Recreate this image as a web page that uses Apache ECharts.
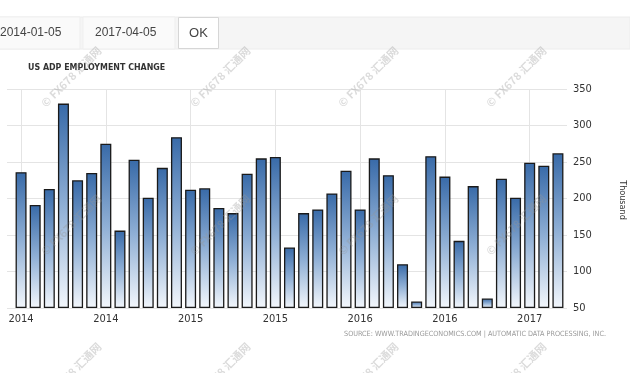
<!DOCTYPE html>
<html>
<head>
<meta charset="utf-8">
<script src="https://cdn.jsdelivr.net/npm/echarts@6/dist/echarts.min.js"></script>
<style>
html,body{margin:0;padding:0;background:#fff;}
#c{width:630px;height:373px;}
</style>
</head>
<body>
<div id="c"></div>
<script>
// ---- data ----
var categories = [
  '2014-01','2014-02','2014-03','2014-04','2014-05','2014-06','2014-07','2014-08','2014-09','2014-10','2014-11','2014-12',
  '2015-01','2015-02','2015-03','2015-04','2015-05','2015-06','2015-07','2015-08','2015-09','2015-10','2015-11','2015-12',
  '2016-01','2016-02','2016-03','2016-04','2016-05','2016-06','2016-07','2016-08','2016-09','2016-10','2016-11','2016-12',
  '2017-01','2017-02','2017-03'
];
var employmentChange = [
  236, 191, 213, 330, 225, 235, 275, 156, 253, 201, 242, 284,
  212, 214, 187, 180, 234, 255, 257, 133, 180, 185, 207, 238,
  185, 255, 232, 110, 59, 258, 230, 142, 217, 63, 227, 201,
  249, 245, 262
];
var yTicks = [50, 100, 150, 200, 250, 300, 350];
var titleText = 'US ADP EMPLOYMENT CHANGE';
var unitText = 'Thousand';
var sourceText = 'SOURCE: WWW.TRADINGECONOMICS.COM | AUTOMATIC DATA PROCESSING, INC.';
var fromDate = '2014-01-05';
var toDate = '2017-04-05';
var watermarkText = '\u00A9 FX678 \u6C47\u901A\u7F51';

var yMin = yTicks[0], yMax = yTicks[yTicks.length - 1], yStep = yTicks[1] - yTicks[0];
var narrow = "'Liberation Sans Narrow','DejaVu Sans Condensed','Noto Sans CJK SC',sans-serif";
var baseVals = employmentChange.map(function () { return yMin; });
var barVals = employmentChange.map(function (v) { return v - yMin; });

// watermarks
var wm = [];
var wmX = [43, 192, 340, 488], wmY = [-43, 105, 253, 401];
wmX.forEach(function (x) {
  wmY.forEach(function (y) {
    wm.push({
      type: 'text', x: x, y: y, rotation: Math.PI / 4, z: 100, silent: true,
      style: { text: watermarkText, fill: 'rgba(150,150,150,0.34)', font: "bold 11px 'Noto Sans CJK SC', sans-serif",
               textAlign: 'left', textVerticalAlign: 'middle' }
    });
  });
});

var chart = echarts.init(document.getElementById('c'), null, { renderer: 'canvas' });
chart.setOption({
  animation: false,
  backgroundColor: '#fff',
  title: {
    text: titleText, left: 23, top: 58,
    textStyle: { fontSize: 8.8, fontWeight: 'bold', color: '#333', fontFamily: narrow }
  },
  grid: [
    { left: 7, right: 63, top: 89, bottom: 65 },
    { left: 14, right: 65, top: 89, bottom: 65 }
  ],
  xAxis: [
    { gridIndex: 0, type: 'category', data: categories, show: false },
    {
      gridIndex: 1, type: 'category', data: categories, boundaryGap: true,
      axisLine: { show: false }, axisTick: { show: false },
      axisLabel: { interval: 5, margin: 6, color: '#333', fontSize: 11, fontFamily: narrow,
        formatter: function (v) { return v.slice(0, 4); } },
      splitLine: { show: true, interval: 5, alignWithLabel: true, lineStyle: { color: '#e4e4e4', width: 1 } }
    }
  ],
  yAxis: [
    {
      gridIndex: 0, type: 'value', position: 'right', min: yMin, max: yMax, interval: yStep,
      axisLine: { show: false }, axisTick: { show: false },
      axisLabel: { margin: 6, color: '#333', fontSize: 11, fontFamily: narrow },
      splitLine: { lineStyle: { color: '#e4e4e4', width: 1 } }
    },
    { gridIndex: 1, type: 'value', min: yMin, max: yMax, interval: yStep, show: false, splitLine: { show: false } }
  ],
  series: [
    {
      type: 'bar', xAxisIndex: 1, yAxisIndex: 1, stack: 's', data: baseVals, barWidth: 11,
      itemStyle: { color: 'rgba(0,0,0,0)' }, silent: true
    },
    {
      type: 'bar', xAxisIndex: 1, yAxisIndex: 1, stack: 's', data: barVals, barWidth: 11, clip: false,
      itemStyle: {
        color: new echarts.graphic.LinearGradient(0, 0, 0, 1, [
          { offset: 0, color: '#386aa8' },
          { offset: 0.5, color: '#8fafd5' },
          { offset: 1, color: '#f3f7fc' }
        ]),
        borderColor: '#1a1a1a', borderWidth: 1.3
      }
    }
  ],
  graphic: [
    { type: 'rect', shape: { x: 0, y: 17, width: 630, height: 32 }, style: { fill: '#f5f5f5', stroke: '#ececec', lineWidth: 1 }, z: 1 },
    { type: 'rect', shape: { x: -2, y: 17, width: 82, height: 32 }, style: { fill: '#fafafa', stroke: '#efefef' }, z: 2 },
    { type: 'rect', shape: { x: 83, y: 17, width: 92, height: 32 }, style: { fill: '#fafafa', stroke: '#efefef' }, z: 2 },
    { type: 'rect', shape: { x: 178.5, y: 17.5, width: 40, height: 31 }, style: { fill: '#fff', stroke: '#d6d6d6', lineWidth: 1 }, z: 2 },
    { type: 'text', x: 0, y: 33, z: 3, style: { text: fromDate, fill: '#444', font: "12px 'Liberation Sans', Arial, sans-serif", textVerticalAlign: 'middle' } },
    { type: 'text', x: 95, y: 33, z: 3, style: { text: toDate, fill: '#444', font: "12px 'Liberation Sans', Arial, sans-serif", textVerticalAlign: 'middle' } },
    { type: 'text', x: 198.5, y: 33, z: 3, style: { text: 'OK', fill: '#444', font: "13px 'Liberation Sans', Arial, sans-serif", textAlign: 'center', textVerticalAlign: 'middle' } },
    { type: 'text', x: 622, y: 200, rotation: -Math.PI / 2, z: 3,
      style: { text: unitText, fill: '#333', font: "9px " + narrow, textAlign: 'center', textVerticalAlign: 'middle' } },
    { type: 'text', x: 606, y: 334, z: 3,
      style: { text: sourceText, fill: '#999', font: "7.2px " + narrow, textAlign: 'right', textVerticalAlign: 'middle' } }
  ].concat(wm)
});
</script>
</body>
</html>
